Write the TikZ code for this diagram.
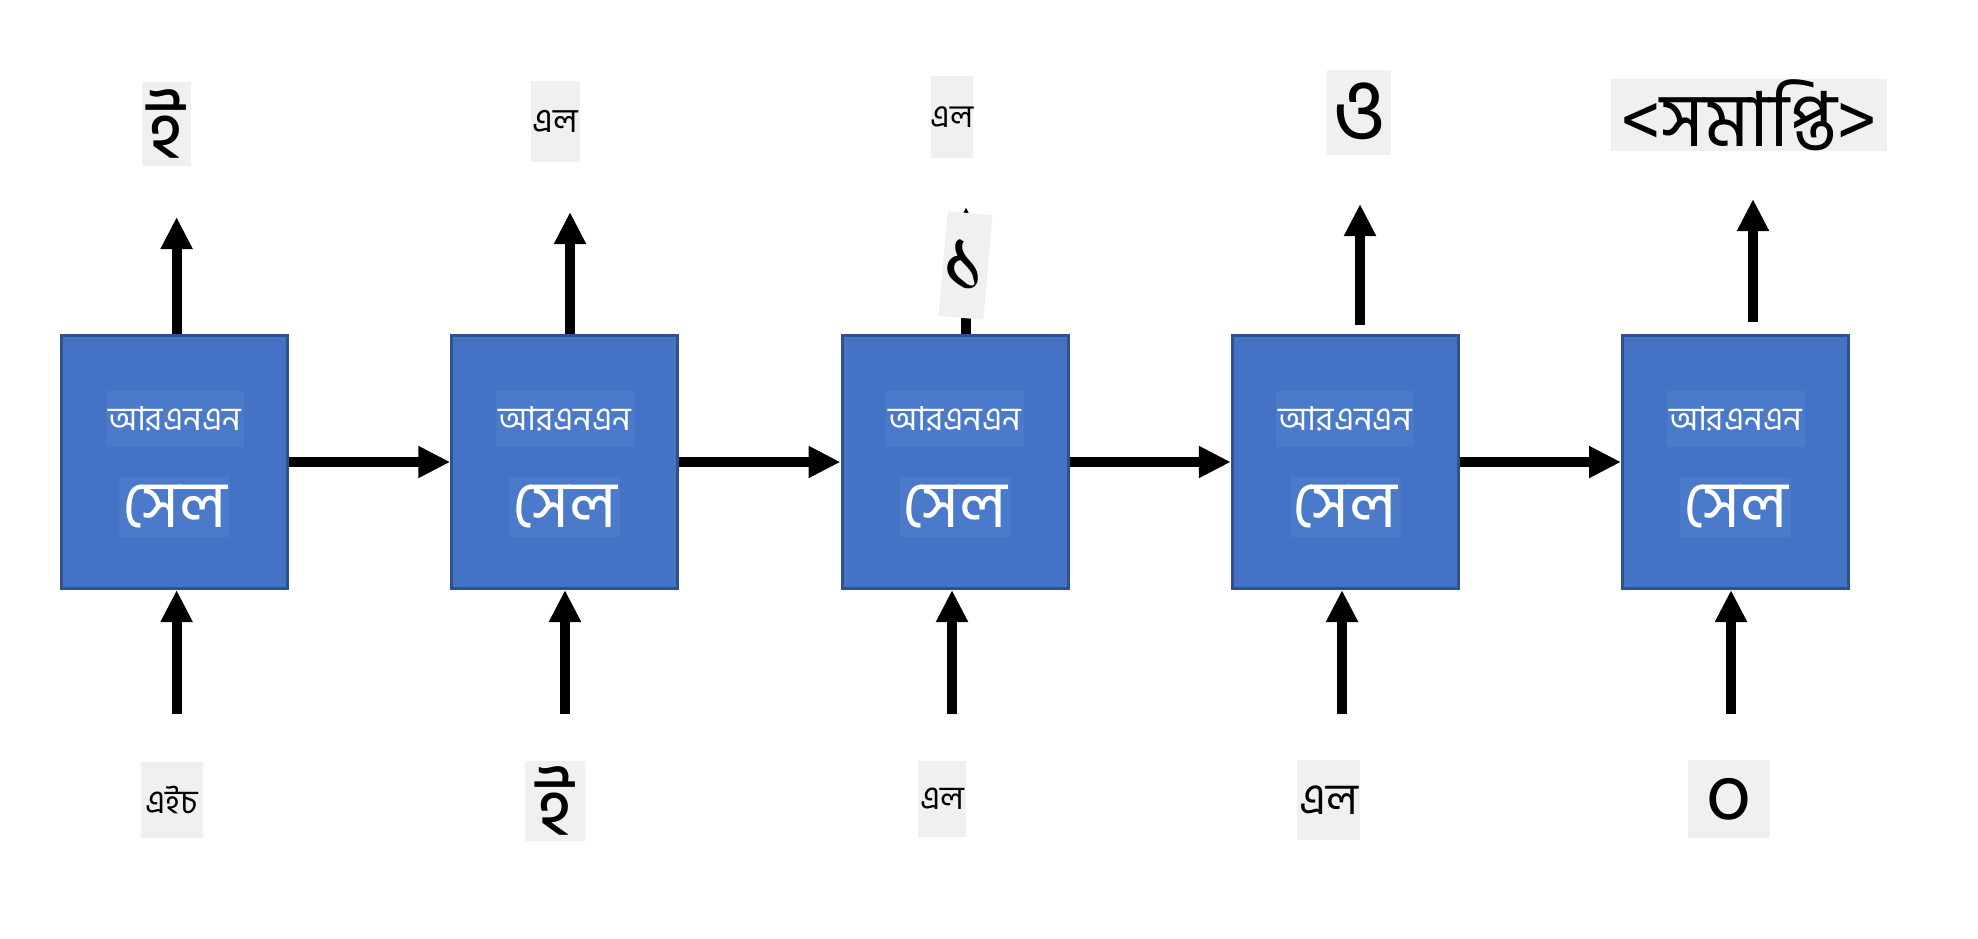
\documentclass[tikz,border=0pt]{standalone}
\usepackage{fontspec}
\usepackage{tikz}
\usetikzlibrary{arrows.meta, positioning}
\newfontfamily\bnfont[Script=Bengali]{Hind Siliguri}
\definecolor{cellblue}{RGB}{68,114,196}
\definecolor{cellborder}{RGB}{47,82,143}
\definecolor{celltextbg}{RGB}{76,122,202}
\definecolor{taggray}{RGB}{240,240,240}

\begin{document}
\begin{tikzpicture}[
    x=1pt, y=-1pt,
    cell/.style={rectangle, draw=cellborder, line width=3pt, fill=cellblue, minimum width=226pt, minimum height=253pt},
    celltop/.style={fill=celltextbg, text=white, inner sep=0pt, minimum width=138pt, minimum height=56pt, font=\bnfont\fontsize{33}{33}\selectfont},
    cellbot/.style={fill=celltextbg, text=white, inner sep=0pt, minimum width=111pt, minimum height=60pt, font=\bnfont\fontsize{66}{66}\selectfont},
    tag/.style={fill=taggray, inner sep=0pt, font=\bnfont\fontsize{34}{34}\selectfont},
    bigtag/.style={tag, font=\bnfont\fontsize{82}{82}\selectfont},
    arr/.style={line width=10pt, -{Triangle[length=32pt, width=30pt]}}
    ]
    \useasboundingbox (0,0) rectangle (1978,938);

    % RNN cells
    \node[cell] (cell1) at (174.5,462) {};
    \node[cell] (cell2) at (564.75,462) {};
    \node[cell] (cell3) at (955,462) {};
    \node[cell] (cell4) at (1345.25,462) {};
    \node[cell] (cell5) at (1735.5,462) {};

    % Cell texts
    \node[celltop] at (cell1.center) [yshift=43pt] {আরএনএন};
    \node[cellbot] at (cell1.center) [yshift=-45pt] {সেল};
    \node[celltop] at (cell2.center) [yshift=43pt] {আরএনএন};
    \node[cellbot] at (cell2.center) [yshift=-45pt] {সেল};
    \node[celltop] at (cell3.center) [yshift=43pt] {আরএনএন};
    \node[cellbot] at (cell3.center) [yshift=-45pt] {সেল};
    \node[celltop] at (cell4.center) [yshift=43pt] {আরএনএন};
    \node[cellbot] at (cell4.center) [yshift=-45pt] {সেল};
    \node[celltop] at (cell5.center) [yshift=43pt] {আরএনএন};
    \node[cellbot] at (cell5.center) [yshift=-45pt] {সেল};

    % Hidden state
    \draw[arr] (cell1.east) -- (cell2.west);
    \draw[arr] (cell2.east) -- (cell3.west);
    \draw[arr] (cell3.east) -- (cell4.west);
    \draw[arr] (cell4.east) -- (cell5.west);

    % Outputs
    \coordinate (up1) at (176.6,217);
    \coordinate (up2) at (570,212);
    \coordinate (up3) at (966,207);
    \coordinate (up4a) at (1360,325);
    \coordinate (up4) at (1360,204);
    \coordinate (up5a) at (1753,322);
    \coordinate (up5) at (1753,199);
    \draw[arr] (cell1.north -| up1) -- (up1);
    \draw[arr] (cell2.north -| up2) -- (up2);
    \draw[arr] (cell3.north -| up3) -- (up3);
    \draw[arr] (up4a) -- (up4);
    \draw[arr] (up5a) -- (up5);

    \node[bigtag, minimum width=49pt, minimum height=84pt] (out1) at (166.5,124) {ই};
    \node[tag, minimum width=49pt, minimum height=81pt] (out2) at (555.5,121.5) {এল};
    \node[tag, minimum width=42pt, minimum height=82pt, font=\bnfont\fontsize{32}{32}\selectfont] (out3) at (952,117) {এল};
    \node[bigtag, minimum width=45pt, minimum height=105pt, rotate=-5, font=\bnfont\fontsize{90}{90}\selectfont] (one) at (965.5,265.5) {১};
    \node[bigtag, minimum width=64pt, minimum height=85pt, font=\bnfont\fontsize{90}{90}\selectfont] (out4) at (1359,112.5) {ও};
    \node[bigtag, minimum width=276pt, minimum height=72pt, font=\bnfont\fontsize{76}{76}\selectfont] (out5) at (1749,115) {<সমাপ্তি>};

    % Inputs
    \coordinate (dn1) at (176.6,714);
    \coordinate (dn2) at (565,714);
    \coordinate (dn3) at (952,714);
    \coordinate (dn4) at (1342,714);
    \coordinate (dn5) at (1731,714);
    \draw[arr] (dn1) -- (dn1 |- cell1.south);
    \draw[arr] (dn2) -- (dn2 |- cell2.south);
    \draw[arr] (dn3) -- (dn3 |- cell3.south);
    \draw[arr] (dn4) -- (dn4 |- cell4.south);
    \draw[arr] (dn5) -- (dn5 |- cell5.south);

    \node[tag, minimum width=62pt, minimum height=76pt, font=\bnfont\fontsize{33}{33}\selectfont] (in1) at (172,800) {এইচ};
    \node[bigtag, minimum width=60pt, minimum height=80pt] (in2) at (555,801) {ই};
    \node[tag, minimum width=48pt, minimum height=76pt, font=\bnfont\fontsize{33}{33}\selectfont] (in3) at (942,799) {এল};
    \node[tag, minimum width=63pt, minimum height=80pt, font=\bnfont\fontsize{44}{44}\selectfont] (in4) at (1328.5,800) {এল};
    \node[bigtag, minimum width=82pt, minimum height=78pt, font=\bnfont\fontsize{80}{80}\selectfont] (in5) at (1729,799) {o};

\end{tikzpicture}
\end{document}
